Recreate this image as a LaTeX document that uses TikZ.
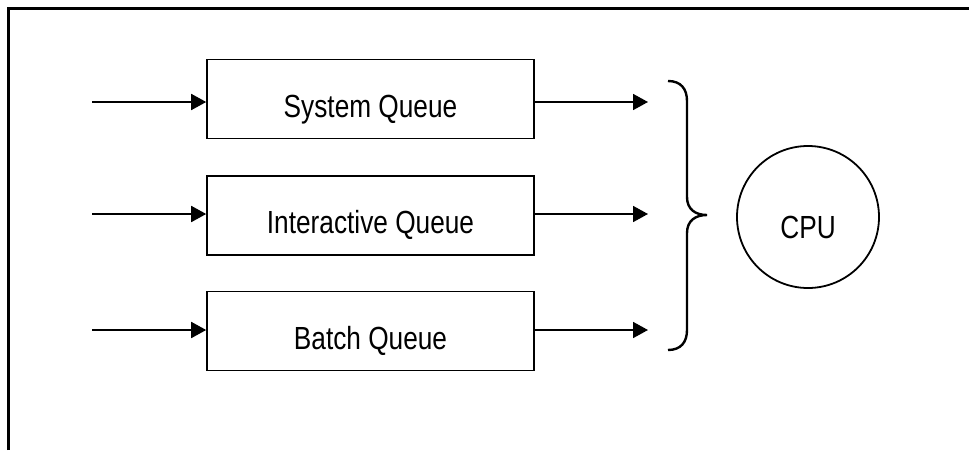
\documentclass[tikz,border=0pt]{standalone}
\usepackage{fontspec}
\setmainfont{Liberation Sans}
\usetikzlibrary{arrows.meta}
% condensed label text
\newcommand{\narrowtext}[1]{\scalebox{0.82}[1]{\fontsize{32}{36}\selectfont #1}}
\begin{document}
\begin{tikzpicture}[x=1pt,y=-1pt,
  queuebox/.style={draw,line width=1.6pt,minimum width=327pt,minimum height=79pt,inner sep=0pt,text height=36pt,text depth=0pt},
  flow/.style={line width=1.8pt,-{Triangle[length=15pt,width=16pt]}},
  cpunode/.style={draw,circle,line width=1.8pt,minimum size=142pt,inner sep=0pt,text height=43pt,text depth=0pt}]
  \useasboundingbox (0,0) rectangle (969,450);
  % open frame: top and left edges only
  \draw[line width=3pt] (8,450) -- (8,8) -- (969,8);
  % queues
  \node[queuebox] (sys) at (370.5,99) {\narrowtext{System Queue}};
  \node[queuebox] (inter) at (370.5,215.5) {\narrowtext{Interactive Queue}};
  \node[queuebox] (batch) at (370.5,331) {\narrowtext{Batch Queue}};
  % incoming and outgoing arrow ends
  \coordinate (in1) at (92,102);
  \coordinate (in2) at (92,214);
  \coordinate (in3) at (92,330);
  \coordinate (out1) at (648,102);
  \coordinate (out2) at (648,214);
  \coordinate (out3) at (648,330);
  \draw[flow] (in1) -- (in1 -| sys.west);
  \draw[flow] (in2) -- (in2 -| inter.west);
  \draw[flow] (in3) -- (in3 -| batch.west);
  \draw[flow] (out1 -| sys.east) -- (out1);
  \draw[flow] (out2 -| inter.east) -- (out2);
  \draw[flow] (out3 -| batch.east) -- (out3);
  % brace gathering the queues
  \draw[line width=2.4pt]
    (668,81) .. controls (681,81) and (687,89) .. (687,101)
    -- (687,197) .. controls (687,209) and (695,215) .. (707,215)
    .. controls (695,215) and (687,221) .. (687,233)
    -- (687,330) .. controls (687,342) and (681,350) .. (668,350);
  % processor
  \node[cpunode] (cpu) at (808,217) {\narrowtext{CPU}};
\end{tikzpicture}
\end{document}
